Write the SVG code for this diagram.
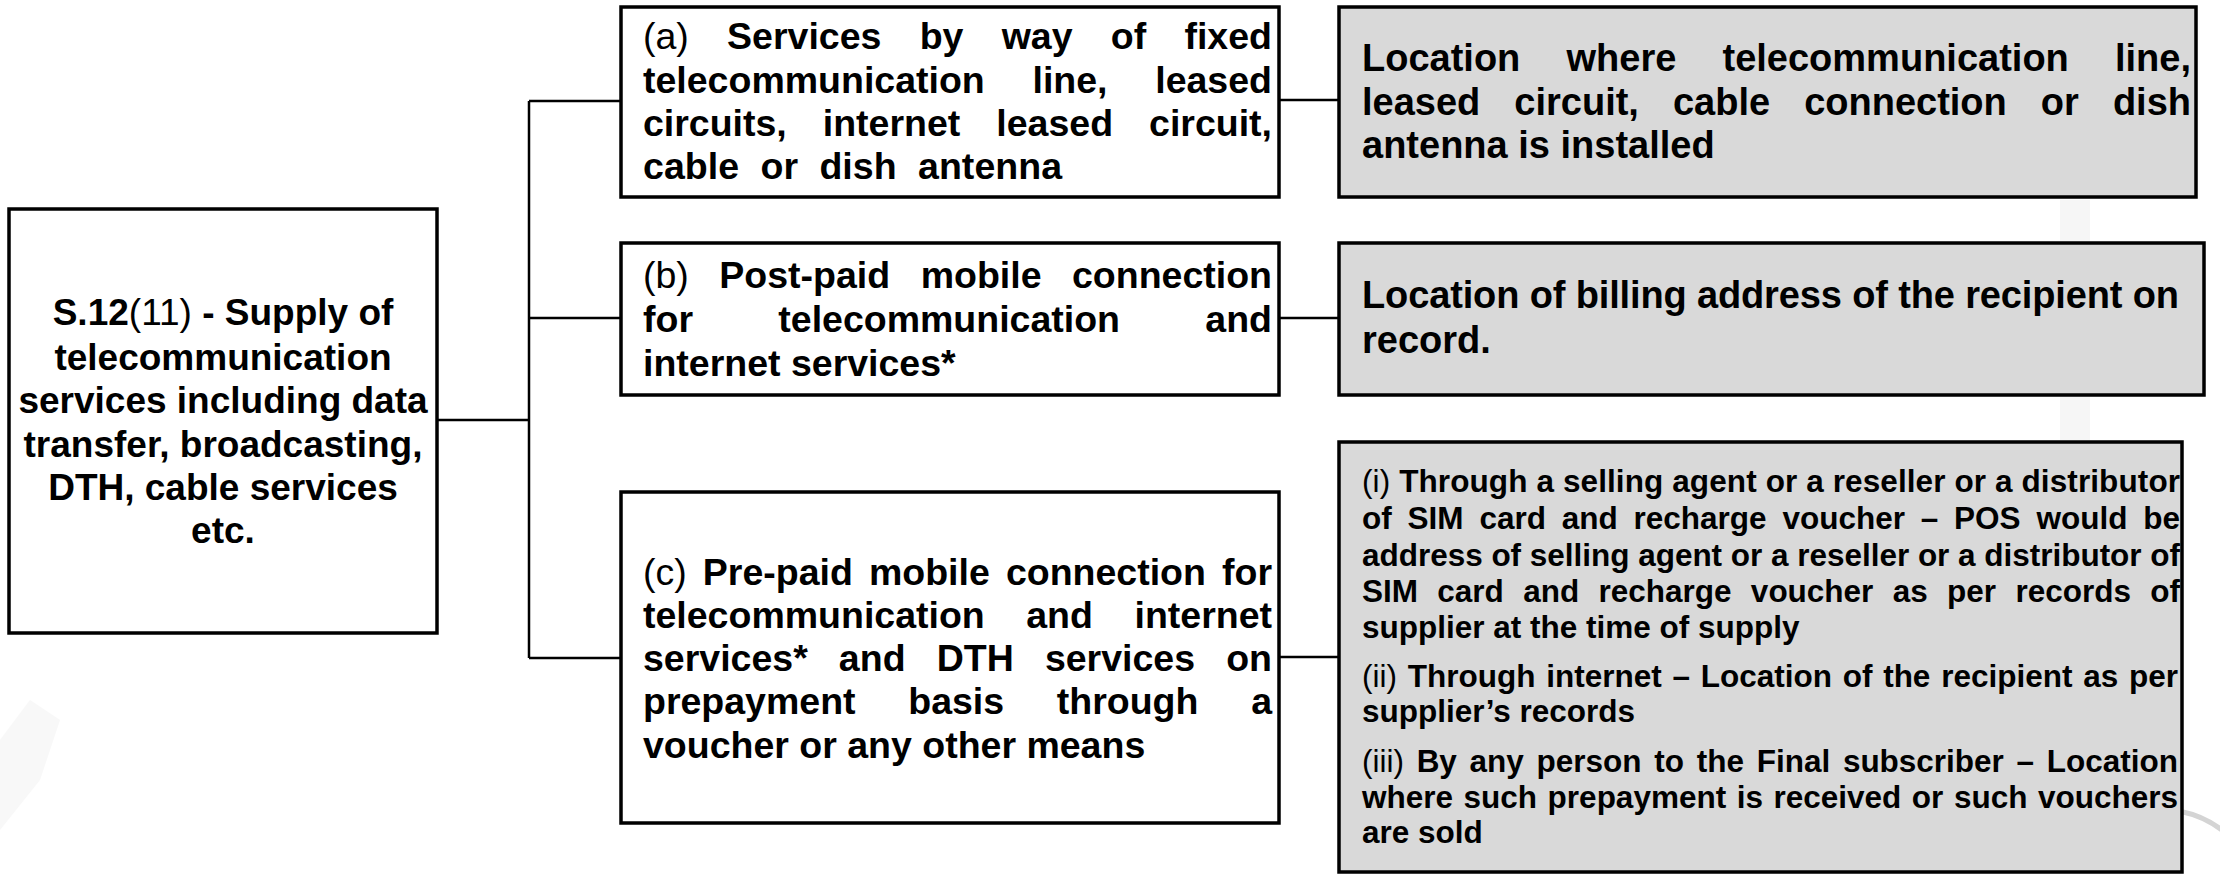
<svg xmlns="http://www.w3.org/2000/svg" width="2220" height="874" viewBox="0 0 2220 874">
<style>
.box{fill:#ffffff;stroke:#000000;stroke-width:3.5}
.gbox{fill:#d9d9d9;stroke:#000000;stroke-width:3.5}
.conn{stroke:#000000;stroke-width:2.5;fill:none}
.t{font-family:"Liberation Sans",Arial,sans-serif;font-weight:bold;fill:#000000}
.l{font-size:37px;text-anchor:middle}
.m{font-size:37.5px}
.r{font-size:38px}
.s{font-size:31.5px}
.n{font-weight:normal}
.bg{fill:none;stroke:#d4d4d4;stroke-linecap:round}
</style>
<rect width="2220" height="874" fill="#ffffff"/>
<g id="background">
  <rect x="2060" y="200" width="30" height="240" fill="#f6f6f6"/>
  <path class="bg" d="M2183,812 Q2203,816 2222,830" stroke-width="5"/>
  <path d="M0,830 L40,780 L60,720 L30,700 L0,740 Z" fill="#f8f8f8"/>
</g>
<g id="connectors">
  <path class="conn" d="M437,420 H529"/>
  <path class="conn" d="M529,101 V658"/>
  <path class="conn" d="M529,101 H621"/>
  <path class="conn" d="M529,318 H621"/>
  <path class="conn" d="M529,658 H621"/>
  <path class="conn" d="M1279,100 H1339"/>
  <path class="conn" d="M1279,318 H1339"/>
  <path class="conn" d="M1279,657 H1339"/>
</g>
<g id="root">
  <rect class="box" x="9" y="209" width="428" height="424"/>
  <text class="t l" x="223" y="325">S.12<tspan class="n">(11)</tspan> - Supply of</text>
  <text class="t l" x="223" y="370">telecommunication</text>
  <text class="t l" x="223" y="413">services including data</text>
  <text class="t l" x="223" y="457">transfer, broadcasting,</text>
  <text class="t l" x="223" y="500">DTH, cable services</text>
  <text class="t l" x="223" y="543">etc.</text>
</g>
<g id="node-a">
  <rect class="box" x="621" y="7" width="658" height="190"/>
  <text class="t m" x="643" y="49" textLength="629" lengthAdjust="spacing" style="word-spacing:27.8px"><tspan class="n">(a)</tspan> Services by way of fixed</text>
  <text class="t m" x="643" y="93" textLength="629" lengthAdjust="spacing" style="word-spacing:37.3px">telecommunication line, leased</text>
  <text class="t m" x="643" y="136" textLength="629" lengthAdjust="spacing" style="word-spacing:25.6px">circuits, internet leased circuit,</text>
  <text class="t m" x="643" y="179" textLength="419" lengthAdjust="spacing" style="word-spacing:11px">cable or dish antenna</text>
</g>
<g id="node-b">
  <rect class="box" x="621" y="243" width="658" height="152"/>
  <text class="t m" x="643" y="288" textLength="629" lengthAdjust="spacing" style="word-spacing:20.1px"><tspan class="n">(b)</tspan> Post-paid mobile connection</text>
  <text class="t m" x="643" y="332" textLength="629" lengthAdjust="spacing" style="word-spacing:74.9px">for telecommunication and</text>
  <text class="t m" x="643" y="376">internet services*</text>
</g>
<g id="node-c">
  <rect class="box" x="621" y="492" width="658" height="331"/>
  <text class="t m" x="643" y="585" textLength="629" lengthAdjust="spacing" style="word-spacing:5.7px"><tspan class="n">(c)</tspan> Pre-paid mobile connection for</text>
  <text class="t m" x="643" y="628" textLength="629" lengthAdjust="spacing" style="word-spacing:31.1px">telecommunication and internet</text>
  <text class="t m" x="643" y="671" textLength="629" lengthAdjust="spacing" style="word-spacing:20.7px">services* and DTH services on</text>
  <text class="t m" x="643" y="714" textLength="629" lengthAdjust="spacing" style="word-spacing:42.3px">prepayment basis through a</text>
  <text class="t m" x="643" y="758">voucher or any other means</text>
</g>
<g id="result-a">
  <rect class="gbox" x="1339" y="7" width="857" height="190"/>
  <text class="t r" x="1362" y="71" textLength="829" lengthAdjust="spacing" style="word-spacing:35.6px">Location where telecommunication line,</text>
  <text class="t r" x="1362" y="115" textLength="829" lengthAdjust="spacing" style="word-spacing:23.5px">leased circuit, cable connection or dish</text>
  <text class="t r" x="1362" y="158">antenna is installed</text>
</g>
<g id="result-b">
  <rect class="gbox" x="1339" y="243" width="865" height="152"/>
  <text class="t r" x="1362" y="308" textLength="817" lengthAdjust="spacing">Location of billing address of the recipient on</text>
  <text class="t r" x="1362" y="353">record.</text>
</g>
<g id="result-c">
  <rect class="gbox" x="1339" y="442" width="843" height="430"/>
  <text class="t s" x="1362" y="492" textLength="818" lengthAdjust="spacing"><tspan class="n">(i)</tspan> Through a selling agent or a reseller or a distributor</text>
  <text class="t s" x="1362" y="529" textLength="818" lengthAdjust="spacing" style="word-spacing:7.1px">of SIM card and recharge voucher – POS would be</text>
  <text class="t s" x="1362" y="566" textLength="818" lengthAdjust="spacing">address of selling agent or a reseller or a distributor of</text>
  <text class="t s" x="1362" y="602" textLength="818" lengthAdjust="spacing" style="word-spacing:10.6px">SIM card and recharge voucher as per records of</text>
  <text class="t s" x="1362" y="638">supplier at the time of supply</text>
  <text class="t s" x="1362" y="687" textLength="816" lengthAdjust="spacing" style="word-spacing:2px"><tspan class="n">(ii)</tspan> Through internet – Location of the recipient as per</text>
  <text class="t s" x="1362" y="722">supplier’s records</text>
  <text class="t s" x="1362" y="772" textLength="816" lengthAdjust="spacing" style="word-spacing:4px"><tspan class="n">(iii)</tspan> By any person to the Final subscriber – Location</text>
  <text class="t s" x="1362" y="808" textLength="816" lengthAdjust="spacing" style="word-spacing:1.8px">where such prepayment is received or such vouchers</text>
  <text class="t s" x="1362" y="843">are sold</text>
</g>
</svg>
